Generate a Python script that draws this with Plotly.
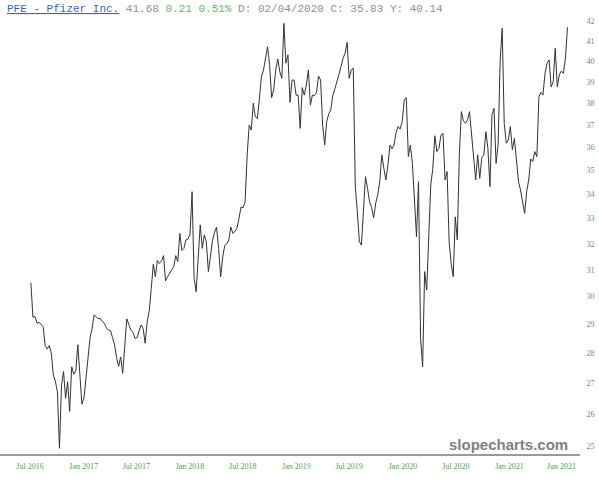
import math
import pandas as pd
import plotly.graph_objects as go

# ---- data (weekly closes) ----
start_date = "2016-07-04"
prices = [
    30.51, 29.26, 29.28, 29.04, 29.08, 28.99, 28.92, 28.26, 28.14, 28.26,
    28.00, 27.26, 27.06, 26.71, 24.93, 26.93, 27.38, 26.50, 27.04, 26.08,
    27.54, 27.29, 27.40, 28.29, 27.21, 26.31, 26.50, 27.15, 27.62, 28.53,
    28.86, 29.34, 29.27, 29.20, 29.22, 29.10, 29.04, 28.88, 28.80, 28.79,
    28.54, 28.29, 27.85, 27.55, 27.87, 27.32, 28.23, 29.20, 29.00, 28.80,
    28.72, 28.51, 28.53, 28.76, 28.98, 28.86, 28.34, 29.10, 29.48, 30.30,
    31.21, 30.74, 31.35, 31.24, 31.33, 31.54, 30.58, 30.74, 30.86, 30.99,
    31.12, 31.54, 31.31, 32.41, 31.74, 31.82, 32.15, 32.19, 32.38, 34.10,
    30.68, 30.18, 31.66, 32.75, 31.82, 32.35, 32.08, 30.93, 31.50, 32.12,
    32.44, 32.66, 31.82, 30.74, 31.47, 31.93, 32.00, 32.15, 32.66, 32.41,
    32.48, 32.61, 33.01, 33.47, 33.44, 33.69, 35.67, 36.99, 36.77, 37.99,
    37.37, 37.28, 38.22, 39.24, 39.56, 40.11, 40.70, 39.81, 38.25, 38.61,
    39.56, 40.10, 39.48, 39.16, 41.88, 39.89, 40.30, 38.03, 39.08, 39.08,
    38.36, 38.37, 36.84, 38.72, 38.37, 38.84, 39.56, 37.91, 38.37, 38.34,
    38.50, 39.27, 39.08, 36.99, 36.10, 37.15, 37.50, 37.68, 38.36, 38.66,
    39.08, 39.35, 39.73, 40.13, 40.38, 40.92, 39.16, 39.56, 39.65, 34.31,
    33.28, 32.08, 31.95, 33.21, 34.73, 34.24, 33.69, 33.44, 33.03, 33.62,
    33.97, 34.52, 35.67, 35.09, 34.59, 35.23, 36.10, 35.93, 36.10, 36.66,
    36.92, 36.81, 37.15, 38.14, 38.25, 35.59, 36.10, 35.30, 33.83, 32.28,
    34.52, 28.51, 27.54, 30.93, 30.24, 31.95, 34.38, 35.09, 36.51, 35.81,
    35.96, 36.54, 36.62, 34.59, 34.95, 32.08, 31.24, 30.74, 33.07, 32.15,
    35.67, 37.60, 37.18, 37.07, 37.22, 37.60, 36.54, 35.23, 34.59, 35.67,
    34.66, 35.55, 35.67, 36.69, 35.96, 34.31, 37.45, 37.75, 35.30, 36.10,
    39.97, 41.63, 37.07, 36.18, 36.32, 36.92, 35.89, 36.39, 35.38, 34.52,
    34.17, 33.76, 33.21, 34.10, 34.59, 35.49, 35.38, 35.81, 35.59, 38.29,
    38.50, 38.37, 39.40, 39.89, 40.05, 38.76, 39.00, 40.62, 38.76, 39.32,
    39.51, 39.40, 40.13, 41.68,
]
dates = pd.date_range(start=start_date, periods=len(prices), freq="7D")

x_tick_dates = ["2016-07-01", "2017-01-01", "2017-07-01", "2018-01-01",
                "2018-07-01", "2019-01-01", "2019-07-01", "2020-01-01",
                "2020-07-01", "2021-01-01", "2021-06-28"]
x_tick_labels = ["Jul 2016", "Jan 2017", "Jul 2017", "Jan 2018", "Jul 2018",
                 "Jan 2019", "Jul 2019", "Jan 2020", "Jul 2020", "Jan 2021",
                 "Jun 2021"]
y_tick_values = list(range(25, 43))
y_tick_labels = [str(v) for v in y_tick_values]

symbol = "PFE - Pfizer Inc."
last_price = "41.68"
change = "0.21 0.51%"
info = "D: 02/04/2020 C: 35.83 Y: 40.14"

GREEN = "#4f9f4f"

fig = go.Figure()
fig.add_trace(go.Scatter(
    x=dates, y=prices, mode="lines",
    line=dict(color="#333333", width=1),
    hoverinfo="x+y", showlegend=False,
))

fig.update_layout(
    width=599, height=480,
    margin=dict(l=0, r=19, t=20, b=26),
    paper_bgcolor="white", plot_bgcolor="white",
    xaxis=dict(
        type="date",
        range=["2016-03-20", "2021-08-31"],
        tickmode="array", tickvals=x_tick_dates, ticktext=x_tick_labels,
        tickfont=dict(family="Liberation Serif", size=8, color=GREEN),
        showgrid=False, zeroline=False,
        showline=True, linecolor="#9a9a9a", linewidth=2,
        ticks="outside", ticklen=3, tickcolor="rgba(0,0,0,0)",
        automargin=False,
    ),
    yaxis=dict(
        type="log",
        range=[math.log10(25) - 8 / 1886.3, math.log10(42) + 1 / 1886.3],
        side="right",
        tickmode="array", tickvals=y_tick_values, ticktext=y_tick_labels,
        tickfont=dict(family="Liberation Serif", size=8, color=GREEN),
        showgrid=False, zeroline=False, showline=False,
        ticks="outside", ticklen=4, tickcolor="rgba(0,0,0,0)",
        automargin=False,
    ),
)

title_html = (
    f"<span style='color:#3d5fb4'><u>{symbol}</u></span> "
    f"<span style='color:#8f8f8f'>{last_price}</span> "
    f"<span style='color:#66b566'>{change}</span> "
    f"<span style='color:#8f8f8f'>{info}</span>"
)
fig.add_annotation(
    text=title_html, xref="paper", yref="paper",
    x=0, y=1 + 11 / 434, xanchor="left", yanchor="middle", xshift=5,
    showarrow=False, font=dict(family="Liberation Mono", size=11, color="#8f8f8f"),
)
fig.add_annotation(
    text="<b>slopecharts.com</b>", xref="paper", yref="paper",
    x=570 / 580, y=10 / 434, xanchor="right", yanchor="middle",
    showarrow=False, font=dict(family="Liberation Sans", size=15, color="#808080"),
)

fig.write_html(
    "out.html",
    config={"displayModeBar": False},
    post_script="document.body.style.margin='0';document.body.style.overflow='hidden';",
)
